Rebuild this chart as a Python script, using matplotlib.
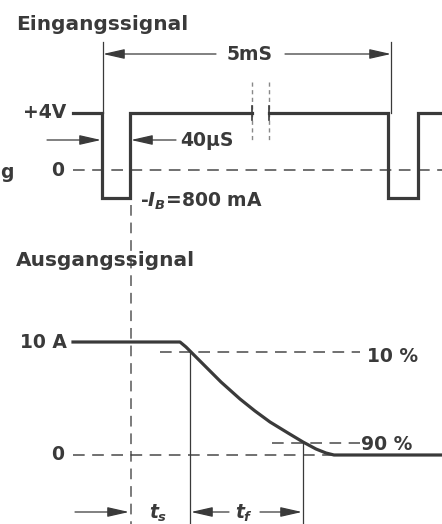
import matplotlib
matplotlib.use("Agg")
import matplotlib.pyplot as plt

# ---- data (diagram coordinates, pixel-like units, y downwards) ----
# input signal segments (before and after the break)
in_x1 = [73, 102, 102, 130, 130, 252]
in_y1 = [113, 113, 198, 198, 113, 113]
in_x2 = [269, 388, 388, 418, 418, 442]
in_y2 = [113, 113, 198, 198, 113, 113]
in_zero_y = 170

# output signal (collector current)
out_x = [73, 180, 186, 192, 205, 221, 240, 255, 270, 288, 303, 316, 326, 334, 442]
out_y = [342, 342, 347, 353, 366, 382, 399, 411, 422, 433, 442, 449, 453, 455, 455]
out_zero_y = 455
lvl10_y = 352
lvl90_y = 443

labels_in = ["+4V", "0"]
labels_out = ["10 A", "0"]
pct_labels = ["10 %", "90 %"]

C = "#3a3a3a"
fig = plt.figure(figsize=(4.42, 5.24), dpi=100)
ax = fig.add_axes([0, 0, 1, 1])
ax.set_xlim(0, 442)
ax.set_ylim(524, 0)
ax.axis("off")
plt.rcParams["mathtext.fontset"] = "custom"
plt.rcParams["mathtext.it"] = "DejaVu Sans:italic:bold"
plt.rcParams["mathtext.rm"] = "DejaVu Sans:bold"

FS = 13.5
font = dict(color=C, fontsize=FS, family="DejaVu Sans", fontweight="bold")
tfont = dict(font, fontsize=14.5)

# titles
ax.text(16, 24, "Eingangssignal", ha="left", va="center", **tfont)
ax.text(16, 261, "Ausgangssignal", ha="left", va="center", **tfont)

# input waveform
ax.plot(in_x1, in_y1, color=C, lw=2.3, solid_joinstyle="miter")
ax.plot(in_x2, in_y2, color=C, lw=2.3, solid_joinstyle="miter")
# break ticks
for bx in (252, 269):
    ax.plot([bx, bx], [106, 120], color=C, lw=1.2)
    ax.plot([bx, bx], [82, 142], color=C, lw=1.0, ls=(0, (3, 2.5)), alpha=0.6)

DASH = (0, (7, 4.5))
# zero line input
ax.plot([73, 442], [in_zero_y, in_zero_y], color=C, lw=1.2, ls=DASH, alpha=0.85)

# vertical reference lines for 5mS
ax.plot([103, 103], [42, 113], color=C, lw=0.9)
ax.plot([391, 391], [42, 113], color=C, lw=0.9)

arrow = dict(arrowstyle="-|>,head_length=1.1,head_width=0.25", color=C, lw=0.9,
             shrinkA=0, shrinkB=0, mutation_scale=12)

# 5mS dimension
ax.annotate("", xy=(103, 54), xytext=(216, 54), arrowprops=arrow)
ax.annotate("", xy=(391, 54), xytext=(285, 54), arrowprops=arrow)
ax.text(250, 54, "5mS", ha="center", va="center", **font)

# 40uS dimension
ax.annotate("", xy=(101, 140), xytext=(47, 140), arrowprops=arrow)
ax.annotate("", xy=(131, 140), xytext=(176, 140), arrowprops=arrow)
ax.text(180, 140, "40µS", ha="left", va="center", **font)

# input labels
ax.text(66, 113, labels_in[0], ha="right", va="center", **font)
ax.text(64, 170, labels_in[1], ha="right", va="center", **font)
ax.text(0.5, 172, "g", ha="left", va="center", **font)
ax.text(140, 201, r"-$I_B$=800 mA", ha="left", va="center", **font)

# long vertical dashed line at end of negative pulse
ax.plot([131, 131], [205, 524], color=C, lw=1.1, ls=DASH, alpha=0.85)

# output waveform
ax.plot(out_x, out_y, color=C, lw=2.3, solid_joinstyle="round")
ax.plot([73, 334], [out_zero_y, out_zero_y], color=C, lw=1.2, ls=DASH, alpha=0.85)
ax.plot([160, 360], [lvl10_y, lvl10_y], color=C, lw=1.2, ls=DASH, alpha=0.85)
ax.plot([272, 360], [lvl90_y, lvl90_y], color=C, lw=1.2, ls=DASH, alpha=0.85)

ax.text(67, 343, labels_out[0], ha="right", va="center", **font)
ax.text(64, 455, labels_out[1], ha="right", va="center", **font)
ax.text(367, 356, pct_labels[0], ha="left", va="center", **font)
ax.text(361, 444, pct_labels[1], ha="left", va="center", **font)

# vertical thin lines for ts / tf
ax.plot([190, 190], [352, 524], color=C, lw=0.9)
ax.plot([303, 303], [442, 524], color=C, lw=0.9)

# bottom dimensions
ax.annotate("", xy=(129, 512), xytext=(75, 512), arrowprops=arrow)
ax.annotate("", xy=(191, 512), xytext=(229, 512), arrowprops=arrow)
ax.annotate("", xy=(302, 512), xytext=(260, 512), arrowprops=arrow)
ax.text(158, 513, r"$t_s$", ha="center", va="center", **font)
ax.text(244, 513, r"$t_f$", ha="center", va="center", **font)

fig.savefig("out.png", dpi=100)
